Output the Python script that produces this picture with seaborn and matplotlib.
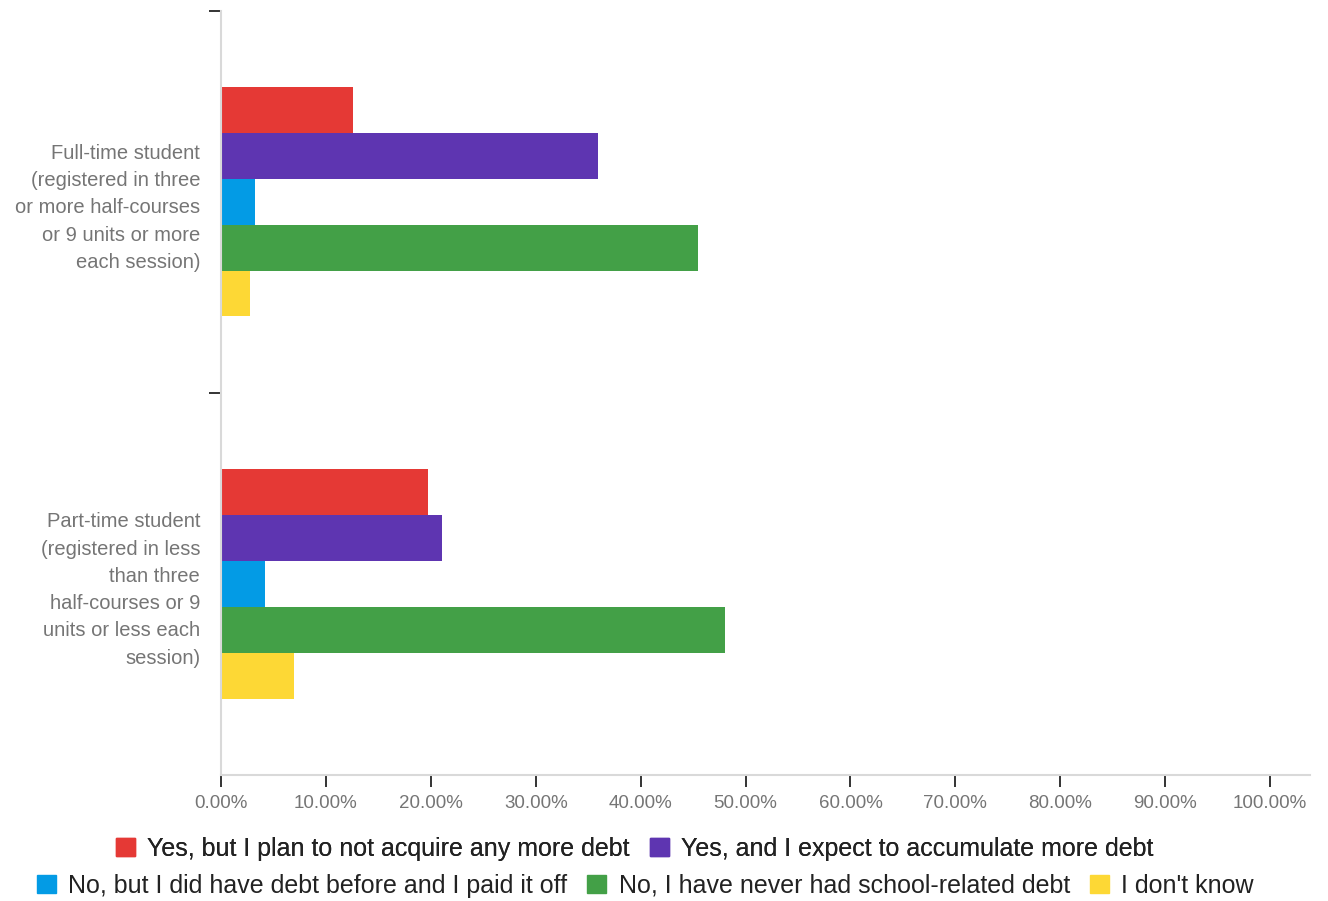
import numpy as np
import pandas as pd
import matplotlib.pyplot as plt
import matplotlib.patches as mpatches
import seaborn as sns

sns.set_theme(style='white')
plt.rcParams['font.family'] = ['Liberation Sans', 'DejaVu Sans']

categories = ['Full-time student\n(registered in three\nor more half-courses\nor 9 units or more\neach session)',
              'Part-time student\n(registered in less\nthan three\nhalf-courses or 9\nunits or less each\nsession)']
answers = ['Yes, but I plan to not acquire any more debt',
           'Yes, and I expect to accumulate more debt',
           'No, but I did have debt before and I paid it off',
           'No, I have never had school-related debt',
           "I don't know"]
full_time = [12.6, 35.9, 3.2, 45.5, 2.8]
part_time = [19.7, 21.1, 4.2, 48.0, 7.0]
colors = ['#E53935', '#5E35B1', '#039BE5', '#43A047', '#FDD835']
xticks = [0, 10, 20, 30, 40, 50, 60, 70, 80, 90, 100]

df = pd.DataFrame({
    'status': [categories[0]] * 5 + [categories[1]] * 5,
    'answer': answers * 2,
    'pct': full_time + part_time,
})

fig = plt.figure(figsize=(13.28, 9.01), dpi=100)
ax = fig.add_axes([221 / 1328, 1 - 775 / 901, (1310 - 221) / 1328, (775 - 10.7) / 901])
sns.barplot(data=df, y='status', x='pct', hue='answer', hue_order=answers,
            palette=colors, width=0.6, orient='h', ax=ax, legend=False,
            saturation=1, linewidth=0)

ax.set_xlim(0, 103.8)
ax.set_ylim(1.5, -0.5)
ax.set_xticks(xticks)
ax.set_xticklabels([f'{v:.2f}%' for v in xticks], color='#757575', fontsize=13.5)
ax.set_yticks([0, 1])
ax.set_yticklabels(categories, color='#757575', fontsize=14.5, linespacing=1.55)
ax.set_yticks([-0.5, 0.5], minor=True)
ax.tick_params(axis='y', which='major', length=0, pad=15)
ax.tick_params(axis='y', which='minor', left=True, length=9, width=1.4, color='#333333')
ax.tick_params(axis='x', bottom=True, length=8.5, width=1.4, color='#333333', pad=6)
ax.set_xlabel('')
ax.set_ylabel('')
for s in ['top', 'right']:
    ax.spines[s].set_visible(False)
for s in ['left', 'bottom']:
    ax.spines[s].set_color('#d9d9d9')
    ax.spines[s].set_linewidth(1.5)

handles = [mpatches.Patch(color=c, label=a) for c, a in zip(colors, answers)]
leg_kw = dict(loc='center', frameon=False, fontsize=18, handlelength=0.75, handleheight=0.75,
              handletextpad=0.5, columnspacing=0.8, labelcolor='#222222')
leg1 = fig.legend(handles=handles[:2], bbox_to_anchor=(0.478, 1 - 849 / 901), ncol=2, **leg_kw)
fig.legend(handles=handles[2:], bbox_to_anchor=(0.486, 1 - 886 / 901), ncol=3, **leg_kw)
fig.add_artist(leg1)

fig.savefig('out.png', dpi=100)
